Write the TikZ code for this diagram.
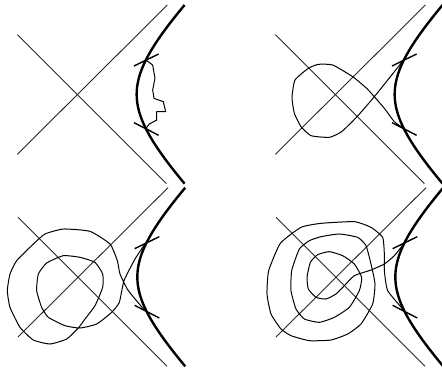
\documentclass[tikz,border=0pt]{standalone}
\usepackage{amsmath,amssymb}
\usetikzlibrary{calc}
\tikzset{
  axisl/.style = {draw=black!85, line width=0.9pt},
  hyper/.style = {draw=black, line width=2.4pt},
  tickl/.style = {draw=black, line width=1.4pt},
  flow/.style  = {draw=black, line width=1pt, line join=round},
}
% separatrices, thick branch and the two short marks of one panel
\newcommand{\saddlepanel}[2]{
  \begin{scope}[shift={(#1,#2)}]
    \draw[axisl] (52,104) -- (499,551);
    \draw[axisl] (52,463) -- (502,15);
    \draw[hyper] plot[domain=-268:268, samples=40, smooth, variable=\t]
      ({232+178*sqrt(1+(\t/178)^2)},{283+\t});
    \draw[tickl] (402,198) -- (476,162);
    \draw[tickl] (402,368) -- (476,406);
  \end{scope}
}
\begin{document}
\begin{tikzpicture}[x=0.3333pt, y=-0.3333pt]
  \useasboundingbox (0,0) rectangle (1326,1104);
  \saddlepanel{0}{0}
  \saddlepanel{774}{0}
  \saddlepanel{2}{548}
  \saddlepanel{776}{548}

  % top left
  \draw[flow] (438,180) -- (458,195) -- (465,235) -- (458,270) -- (462,295) -- (490,305)
    -- (497,335) -- (470,335) -- (470,360) -- (448,372) -- (438,385);

  % top right
  \begin{scope}[shift={(663,0)}]
    \draw[flow] plot[smooth, tension=0.3] coordinates {(548,180) (460,290) (408,350) (362,395)
      (325,412) (270,407) (240,380) (220,340) (213,292) (222,240) (262,205) (292,193)
      (335,195) (395,230) (440,268) (490,325) (520,365) (548,385)};
  \end{scope}

  % bottom left
  \begin{scope}[shift={(0,552)}]
    \draw[flow] plot[smooth, tension=0.3] coordinates {(435,180) (405,225) (372,290) (358,355)
      (335,385) (290,420) (240,432) (195,425) (145,400) (125,370) (110,320) (115,270)
      (140,237) (190,215) (240,220) (285,235) (308,270) (308,310) (285,365) (255,405)
      (235,432) (200,465) (150,480) (100,468) (60,430) (30,370) (22,320) (30,270)
      (50,230) (100,180) (135,150) (190,135) (270,142) (330,180) (352,230) (360,270)
      (385,320) (435,380)};
  \end{scope}

  % bottom right
  \begin{scope}[shift={(663,552)}]
    \draw[flow] plot[smooth, tension=0.3] coordinates {(548,180) (520,215) (490,240) (450,258)
      (400,275) (370,305) (345,330) (315,345) (285,340) (262,315) (258,280) (268,235)
      (290,212) (325,203) (365,215) (400,240) (422,280) (415,320) (385,370) (340,400)
      (295,415) (250,405) (225,375) (210,320) (212,260) (235,195) (265,170) (300,158)
      (355,150) (410,160) (435,185) (450,240) (462,300) (455,360) (420,420) (380,450)
      (330,468) (265,470) (210,455) (180,435) (150,390) (138,330) (143,260) (178,178)
      (240,130) (300,118) (400,113) (450,130) (485,160) (490,210) (490,260) (500,320)
      (548,378)};
  \end{scope}
\end{tikzpicture}
\end{document}
